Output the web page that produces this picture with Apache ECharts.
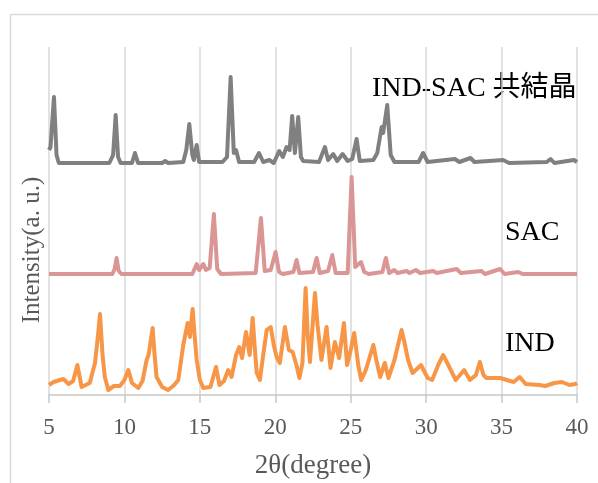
<!DOCTYPE html>
<html lang="ja">
<head>
    <meta charset="UTF-8">
    <title>XRD パターン</title>
    <script src="https://cdn.jsdelivr.net/npm/echarts@6/dist/echarts.min.js"></script>
    <style>
        html, body { margin: 0; padding: 0; background: #fff; }
        #main { width: 598px; height: 483px; }
    </style>
</head>
<body>
    <div id="main"></div>
    <script>
        // 2θ と強度 (a. u.) の読み取り値
        var cocrystal = [
            [5.0,245],[5.1,248],[5.33,298],[5.5,240],[5.65,232],
            [9.0,232],[9.25,240],[9.42,280],[9.58,238],[9.75,232],
            [10.5,232],[10.7,242],[10.9,232],[12.5,232],[12.7,234],[12.9,232],
            [13.9,233],[14.1,245],[14.3,271],[14.5,240],[14.6,235],[14.79,250],[14.95,233],
            [16.5,233],[16.8,238],[17.04,318],[17.25,242],[17.4,245],[17.6,233],
            [18.6,233],[18.92,242],[19.2,233],[19.6,235],[19.9,232],[20.26,244],[20.5,238],
            [20.75,248],[20.95,245],[21.12,279],[21.3,242],[21.52,278],[21.7,238],[21.85,234],
            [22.9,233],[23.29,248],[23.5,235],[23.84,241],[24.1,234],[24.46,241],[24.8,234],
            [25.1,236],[25.39,256],[25.6,234],[26.5,235],[26.76,242],[27.05,268],[27.15,262],
            [27.42,290],[27.65,240],[27.9,233],[29.5,233],[29.8,242],[30.1,233],[31.9,236],
            [32.2,233],[32.94,237],[33.2,233],[35.1,235],[35.5,232],[38.0,233],[38.25,236],
            [38.5,232],[39.8,235],[40.0,233]
        ];
        var sac = [
            [5.0,121],[9.2,121],[9.35,126],[9.48,137],[9.62,124],[9.8,121],
            [14.5,121],[14.79,131],[14.95,125],[15.23,131],[15.4,125],[15.65,127],[15.93,181],
            [16.15,126],[16.4,121],[18.7,122],[19.05,177],[19.3,124],[19.7,125],[20.02,143],
            [20.25,123],[20.5,121],[21.2,123],[21.41,135],[21.6,122],[22.5,123],[22.74,137],
            [22.95,122],[23.5,124],[23.78,140],[24.0,122],[24.8,122],[25.06,218],[25.3,128],
            [25.45,130],[25.68,133],[25.9,123],[26.2,121],[27.1,123],[27.33,137],[27.55,122],
            [27.88,125],[28.1,122],[28.7,124],[28.9,122],[29.32,125],[29.6,122],[30.47,124],
            [30.7,122],[32.02,126],[32.3,122],[33.67,124],[33.9,121],[34.9,126],[35.2,121],
            [36.1,123],[36.4,121],[40.0,121]
        ];
        var ind = [
            [5.0,10],[5.3,13],[5.95,16],[6.3,11],[6.6,14],[6.88,30],[7.16,8],[7.7,12],
            [8.05,32],[8.25,60],[8.38,81],[8.55,40],[8.7,18],[8.93,5],[9.3,9],[9.7,9],
            [10.0,15],[10.26,25],[10.5,12],[10.92,7],[11.2,14],[11.47,35],[11.6,40],[11.87,67],
            [12.0,40],[12.13,18],[12.5,8],[12.9,5],[13.3,10],[13.57,15],[13.9,50],[14.19,72],
            [14.34,58],[14.52,86],[14.65,60],[14.79,35],[15.0,15],[15.23,7],[15.7,8],[16.07,28],
            [16.3,10],[16.6,14],[16.88,25],[17.1,18],[17.4,40],[17.61,48],[17.8,37],[18.06,63],
            [18.3,40],[18.5,77],[18.65,45],[18.77,22],[18.98,15],[19.2,40],[19.43,65],[19.7,68],
            [19.9,50],[20.09,38],[20.3,32],[20.64,68],[20.9,45],[21.15,43],[21.4,30],[21.6,17],
            [21.8,32],[22.01,107],[22.15,60],[22.3,33],[22.63,102],[22.8,70],[23.06,35],
            [23.4,68],[23.66,27],[23.95,53],[24.23,37],[24.55,72],[24.76,30],[25.0,45],
            [25.23,62],[25.5,30],[25.7,15],[26.0,25],[26.5,50],[26.7,35],[26.95,18],[27.26,32],
            [27.5,17],[27.9,35],[28.37,65],[28.6,50],[28.8,35],[29.1,22],[29.66,30],[30.1,17],
            [30.4,15],[30.8,30],[31.13,40],[31.4,32],[31.96,15],[32.52,25],[32.9,15],[33.3,20],
            [33.56,33],[33.8,20],[34.0,17],[34.9,17],[35.8,13],[36.2,18],[36.6,11],[37.5,10],
            [37.9,9],[38.5,12],[39.0,13],[39.5,10],[39.9,11],[40.0,12]
        ];
        var seriesNames = ['IND-SAC 共結晶', 'SAC', 'IND'];
        var xTitle = '2θ(degree)';
        var yTitle = 'Intensity(a. u.)';

        var serif = "'Liberation Serif', 'Noto Sans CJK JP', serif";
        var myChart = echarts.init(document.getElementById('main'));

        function line(name, data, color) {
            return {
                name: name,
                type: 'line',
                data: data,
                showSymbol: false,
                symbol: 'none',
                lineStyle: { color: color, width: 4, join: 'round' }
            };
        }

        myChart.setOption({
            animation: false,
            grid: { left: 49, right: 21, top: 47, bottom: 88 },
            xAxis: {
                type: 'value',
                min: 5, max: 40, interval: 5,
                axisLine: { lineStyle: { color: '#c8c8c8', width: 1.5 } },
                axisTick: { show: true, length: 8, lineStyle: { color: '#c8c8c8', width: 1.5 } },
                axisLabel: { color: '#595959', fontFamily: serif, fontSize: 23, margin: 21 },
                splitLine: { show: true, lineStyle: { color: '#d9d9d9', width: 1.5 } }
            },
            yAxis: {
                type: 'value',
                min: 0, max: 348,
                show: false
            },
            graphic: [
                { type: 'rect', silent: true, shape: { x: 10.5, y: 14.5, width: 600, height: 480 },
                  style: { fill: 'none', stroke: '#d9d9d9', lineWidth: 1.5 } },
                { type: 'text', left: 372, top: 75,
                  style: { text: seriesNames[0], font: '28px ' + serif, fill: '#000' } },
                { type: 'text', left: 505, top: 219,
                  style: { text: seriesNames[1], font: '28px ' + serif, fill: '#000' } },
                { type: 'text', left: 505, top: 330,
                  style: { text: seriesNames[2], font: '28px ' + serif, fill: '#000' } },
                { type: 'text', x: 313, y: 466,
                  style: { text: xTitle, font: '27px ' + serif, fill: '#595959',
                           align: 'center', verticalAlign: 'middle' } },
                { type: 'text', x: 32, y: 250, rotation: Math.PI / 2,
                  style: { text: yTitle, font: '25px ' + serif, fill: '#595959',
                           align: 'center', verticalAlign: 'middle' } }
            ],
            series: [
                line(seriesNames[2], ind, '#f79646'),
                line(seriesNames[1], sac, '#da9694'),
                line(seriesNames[0], cocrystal, '#808080')
            ]
        });
    </script>
</body>
</html>
